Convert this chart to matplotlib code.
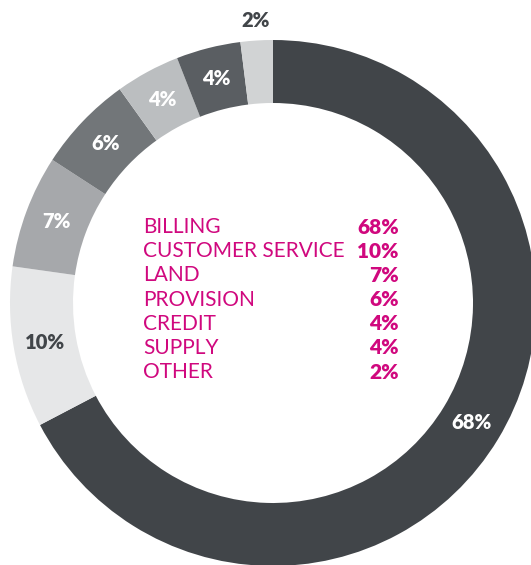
import numpy as np
import matplotlib
matplotlib.use('Agg')
from matplotlib import pyplot as plt

# data, clockwise from 12 o'clock
categories = ['BILLING', 'CUSTOMER SERVICE', 'LAND', 'PROVISION', 'CREDIT', 'SUPPLY', 'OTHER']
values = [68, 10, 7, 6, 4, 4, 2]
pct_labels = ['68%', '10%', '7%', '6%', '4%', '4%', '2%']

colors = ['#414549', '#e6e7e8', '#a6a8ab', '#727679', '#bbbec0', '#5a5e62', '#d1d3d4']
label_colors = ['white', '#414549', 'white', 'white', 'white', 'white', '#414549']
pink = '#d0087e'
fonts = ['Lato', 'DejaVu Sans']

W, H = 531, 565
cx, cy = 273, H - 303
R, ring = 263, 63

fig = plt.figure(figsize=(W / 100, H / 100), dpi=100)
ax = fig.add_axes([0, 0, 1, 1])
ax.pie(values, colors=colors, startangle=90, counterclock=False,
       center=(cx, cy), radius=R, wedgeprops=dict(width=ring, linewidth=0))
ax.set_xlim(0, W)
ax.set_ylim(0, H)
ax.set_aspect('equal')
ax.axis('off')

# percentage labels in the ring (last one sits outside)
frac = np.array(values) / sum(values)
mids = np.cumsum(frac) - frac / 2
for i, (m, lab) in enumerate(zip(mids, pct_labels)):
    ang = np.deg2rad(90 - m * 360)
    r = R - ring / 2 if i < len(values) - 1 else R + 20
    ax.text(cx + r * np.cos(ang), cy + r * np.sin(ang), lab, ha='center', va='center',
            fontsize=14.5, fontweight='heavy', color=label_colors[i], family=fonts)

# legend in the middle
for i, (cat, lab) in enumerate(zip(categories, pct_labels)):
    y = H - (227 + i * 24.2)
    ax.text(143, y, cat, ha='left', va='center', fontsize=15, fontweight='normal',
            color=pink, family=fonts)
    ax.text(399, y, lab, ha='right', va='center', fontsize=15, fontweight='heavy',
            color=pink, family=fonts)

fig.savefig('out.png', dpi=100)
